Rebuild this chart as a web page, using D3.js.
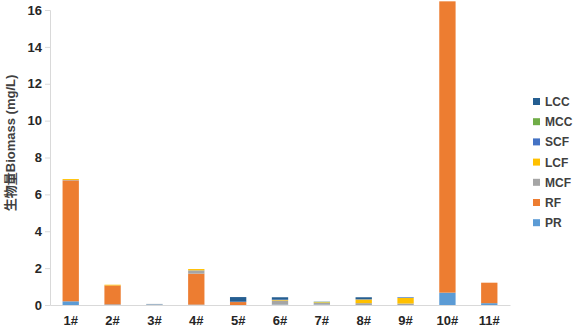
<!DOCTYPE html>
<html>
<head>
<meta charset="utf-8">
<script src="https://cdn.jsdelivr.net/npm/d3@7"></script>
<style>
  body { margin: 0; background: #fff; }
  text { font-family: "Liberation Sans", Arial, "Noto Sans CJK SC", sans-serif; }
</style>
</head>
<body>
<div id="chart"></div>
<script>
// sites on the x axis
const sites = ["1#", "2#", "3#", "4#", "5#", "6#", "7#", "8#", "9#", "10#", "11#"];

// stacked series, bottom to top
const seriesNames = ["PR", "RF", "MCF", "LCF", "SCF", "MCC", "LCC"];
const PR  = [0.20, 0.03, 0.03, 0.02, 0.00, 0.02, 0.02, 0.00, 0.00, 0.67, 0.10];
const RF  = [6.56, 1.03, 0.00, 1.68, 0.16, 0.00, 0.00, 0.00, 0.00, 15.80, 1.11];
const MCF = [0.02, 0.00, 0.03, 0.18, 0.00, 0.22, 0.10, 0.10, 0.08, 0.00, 0.00];
const LCF = [0.05, 0.04, 0.00, 0.07, 0.00, 0.03, 0.03, 0.20, 0.30, 0.00, 0.00];
const SCF = [0.00, 0.00, 0.00, 0.00, 0.02, 0.02, 0.00, 0.02, 0.03, 0.00, 0.00];
const MCC = [0.00, 0.00, 0.00, 0.00, 0.00, 0.00, 0.02, 0.00, 0.00, 0.00, 0.00];
const LCC = [0.00, 0.00, 0.00, 0.00, 0.25, 0.13, 0.01, 0.10, 0.01, 0.00, 0.00];

const yTicks = [0, 2, 4, 6, 8, 10, 12, 14, 16];

const colors = {
    PR: "#5b9bd5", RF: "#ed7d31", MCF: "#a5a5a5", LCF: "#ffc000",
    SCF: "#4472c4", MCC: "#70ad47", LCC: "#255e91"
};

const seriesValues = {PR, RF, MCF, LCF, SCF, MCC, LCC};

const rows = sites.map((s, i) => {
    const r = {site: s};
    seriesNames.forEach(n => r[n] = seriesValues[n][i]);
    return r;
});

const width = 573, height = 329;
const margin = {top: 10, right: 63, bottom: 24, left: 50};

const svg = d3.select("#chart").append("svg")
    .attr("width", width)
    .attr("height", height);

const x = d3.scaleBand()
    .domain(sites)
    .range([margin.left, width - margin.right])
    .paddingInner(0.61)
    .paddingOuter(0.3);

const y = d3.scaleLinear()
    .domain([0, 16])
    .range([height - margin.bottom, margin.top]);

const stack = d3.stack().keys(seriesNames);
const layers = stack(rows);

// bars
svg.append("g")
  .selectAll("g")
  .data(layers)
  .join("g")
    .attr("fill", d => colors[d.key])
  .selectAll("rect")
  .data(d => d)
  .join("rect")
    .attr("x", d => x(d.data.site))
    .attr("y", d => y(d[1]))
    .attr("width", x.bandwidth())
    .attr("height", d => Math.max(0, y(d[0]) - y(d[1])));

// y axis
const yAxis = svg.append("g")
    .attr("transform", `translate(${margin.left},0)`)
    .call(d3.axisLeft(y).tickValues(yTicks).tickSize(5).tickPadding(3));
yAxis.select(".domain").attr("stroke", "#d9d9d9");
yAxis.selectAll(".tick line").attr("stroke", "#d9d9d9");
yAxis.selectAll(".tick text")
    .attr("fill", "#262626")
    .style("font-size", "13px")
    .style("font-weight", "bold");

// x axis
const xAxis = svg.append("g")
    .attr("transform", `translate(0,${height - margin.bottom})`)
    .call(d3.axisBottom(x).tickSize(0).tickPadding(11).tickSizeOuter(0));
xAxis.select(".domain").attr("stroke", "#d9d9d9");
xAxis.selectAll(".tick text")
    .attr("fill", "#262626")
    .style("font-size", "13px")
    .style("font-weight", "bold");

// y axis title
svg.append("text")
    .attr("transform", "translate(15,143) rotate(-90)")
    .attr("text-anchor", "middle")
    .attr("fill", "#404040")
    .style("font-size", "13px")
    .style("font-weight", "bold")
    .text("生物量Biomass (mg/L)");

// legend, top entry is the last series
const legend = svg.append("g")
    .attr("transform", "translate(533,98)");
seriesNames.slice().reverse().forEach((n, i) => {
    const g = legend.append("g").attr("transform", `translate(0,${i * 20.2})`);
    g.append("rect")
        .attr("width", 7).attr("height", 7)
        .attr("fill", colors[n]);
    g.append("text")
        .attr("x", 12).attr("y", 8)
        .attr("fill", "#404040")
        .style("font-size", "12px")
        .style("font-weight", "bold")
        .text(n);
});
</script>
</body>
</html>
